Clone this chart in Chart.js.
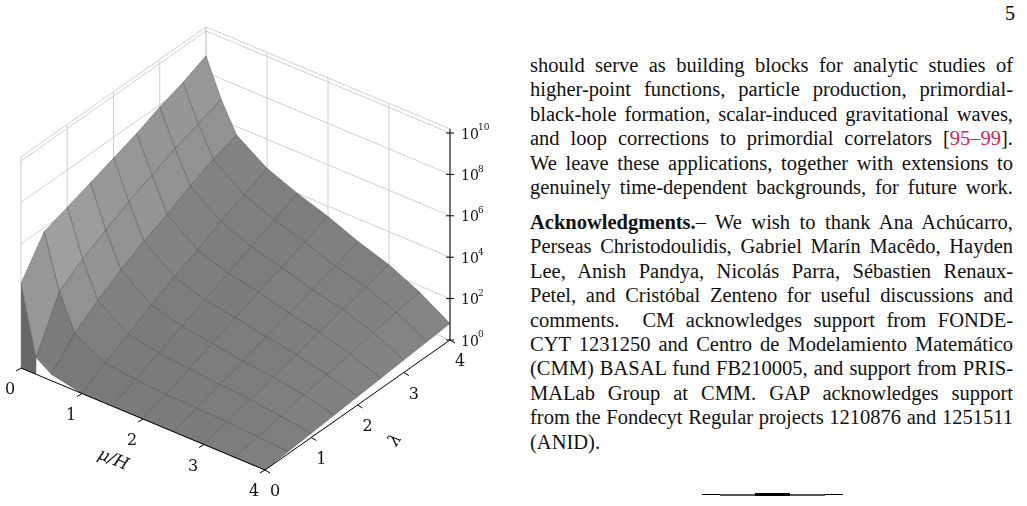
<!DOCTYPE html>
<html>
<head>
<meta charset="utf-8">
<script src="https://cdn.jsdelivr.net/npm/chart.js@4"></script>
<style>
  body { margin: 0; background: #fff; width: 1027px; height: 506px; overflow: hidden; position: relative; }
  #plot { position: absolute; left: 0; top: 0; width: 500px; height: 506px; }
  .txt { position: absolute; left: 530px; top: 53px; width: 483px; font-family: "Liberation Serif", serif; font-size: 20.5px; line-height: 24.4px; color: #111; }
  .txt div { text-align: justify; text-align-last: justify; white-space: nowrap; }
  .txt div.last { text-align-last: left; }
  .txt .gap { margin-top: 10.6px; }
  .ref { color: #d0245a; }
  #page { position: absolute; right: 12px; top: 2px; font-family: "Liberation Serif", serif; font-size: 20px; }
  .rule { position: absolute; top: 494px; height: 1px; background: #000; }
</style>
</head>
<body>
<div id="plot"><canvas id="surf"></canvas></div>
<div id="page">5</div>
<div class="txt">
  <div>should serve as building blocks for analytic studies of</div>
  <div>higher-point functions, particle production, primordial-</div>
  <div>black-hole formation, scalar-induced gravitational waves,</div>
  <div>and loop corrections to primordial correlators [<span class="ref">95–99</span>].</div>
  <div>We leave these applications, together with extensions to</div>
  <div>genuinely time-dependent backgrounds, for future work.</div>
  <div class="gap"><b>Acknowledgments.</b>– We wish to thank Ana Achúcarro,</div>
  <div>Perseas Christodoulidis, Gabriel Marín Macêdo, Hayden</div>
  <div>Lee, Anish Pandya, Nicolás Parra, Sébastien Renaux-</div>
  <div>Petel, and Cristóbal Zenteno for useful discussions and</div>
  <div>comments.&nbsp; CM acknowledges support from FONDE-</div>
  <div>CYT 1231250 and Centro de Modelamiento Matemático</div>
  <div>(CMM) BASAL fund FB210005, and support from PRIS-</div>
  <div>MALab Group at CMM. GAP acknowledges support</div>
  <div>from the Fondecyt Regular projects 1210876 and 1251511</div>
  <div class="last">(ANID).</div>
</div>
<div class="rule" style="left:702px;width:141px;"></div>
<div class="rule" style="left:720px;width:105px;height:2px;top:493.5px;background:#555;"></div>
<div class="rule" style="left:755px;width:35px;height:3px;top:493px;"></div>
<script>
// grid of the surface: mu/H (rows) x lambda (columns), values are log10 of the plotted quantity
const MU = [0, 0.25, 0.5, 1, 1.5, 2, 2.5, 3, 3.5, 4];
const LAM = [0, 0.5, 1, 1.5, 2, 2.5, 3, 3.5, 4];
const LOGZ = [
  [4.1, 5.8, 6.2, 6.6, 7.0, 7.4, 7.9, 8.3, 8.8],
  [0.8, 3.2, 4.0, 4.6, 5.2, 5.7, 6.2, 6.6, 7.0],
  [0.3, 1.5, 2.3, 3.0, 3.6, 4.1, 4.7, 5.2, 5.6],
  [0.0, 0.7, 1.3, 1.9, 2.5, 3.0, 3.6, 4.1, 4.6],
  [0.0, 0.5, 1.0, 1.5, 2.0, 2.5, 3.0, 3.5, 4.0],
  [0.0, 0.4, 0.85, 1.3, 1.75, 2.2, 2.6, 3.05, 3.5],
  [0.0, 0.35, 0.7, 1.05, 1.45, 1.8, 2.15, 2.5, 2.9],
  [0.0, 0.3, 0.6, 0.9, 1.2, 1.5, 1.8, 2.1, 2.4],
  [0.0, 0.2, 0.4, 0.65, 0.85, 1.05, 1.3, 1.5, 1.7],
  [0.0, 0.1, 0.2, 0.3, 0.4, 0.5, 0.6, 0.7, 0.8]
];
const MU_TICKS = [0, 1, 2, 3, 4];
const LAM_TICKS = [0, 1, 2, 3, 4];
const Z_TICKS = [0, 2, 4, 6, 8, 10];
const Z_TOP = 10.2;

// fixed oblique view (screen units of the hidden x/y scales)
function proj(mu, lam, lz) {
  return [21 + 61 * mu + 46.25 * lam, 368 + 25.5 * mu - 32.5 * lam - 20.7 * lz];
}

const surfacePlugin = {
  id: 'surface',
  beforeDatasetsDraw(chart) {
    const ctx = chart.ctx, sx = chart.scales.x, sy = chart.scales.y;
    const P = (mu, lam, lz) => { const p = proj(mu, lam, lz); return [sx.getPixelForValue(p[0]), sy.getPixelForValue(p[1])]; };
    const line = (a, b) => { ctx.beginPath(); ctx.moveTo(a[0], a[1]); ctx.lineTo(b[0], b[1]); ctx.stroke(); };
    ctx.save();

    // back panes
    ctx.strokeStyle = '#cfcfcf'; ctx.lineWidth = 1;
    MU_TICKS.forEach(m => line(P(m, 4, 0), P(m, 4, Z_TOP)));
    LAM_TICKS.forEach(l => line(P(0, l, 0), P(0, l, Z_TOP)));
    Z_TICKS.concat([Z_TOP]).forEach(z => { line(P(0, 0, z), P(0, 4, z)); line(P(0, 4, z), P(4, 4, z)); });

    // surface cells, far to near
    const cells = [];
    for (let i = 0; i < MU.length - 1; i++)
      for (let j = 0; j < LAM.length - 1; j++) cells.push([i, j]);
    cells.sort((a, b) => (MU[a[0]] - LAM[a[1]]) - (MU[b[0]] - LAM[b[1]]));
    cells.forEach(([i, j]) => {
      const q = [[i, j], [i + 1, j], [i + 1, j + 1], [i, j + 1]].map(([a, b]) => P(MU[a], LAM[b], LOGZ[a][b]));
      const dm = MU[i + 1] - MU[i], dl = LAM[j + 1] - LAM[j];
      const dzdm = (LOGZ[i + 1][j] - LOGZ[i][j] + LOGZ[i + 1][j + 1] - LOGZ[i][j + 1]) / 2 / dm;
      const dzdl = (LOGZ[i][j + 1] - LOGZ[i][j] + LOGZ[i + 1][j + 1] - LOGZ[i + 1][j]) / 2 / dl;
      const g = Math.round(Math.max(105, Math.min(178, 128 + 4 * -dzdm - 6 * dzdl)));
      ctx.fillStyle = `rgb(${g},${g},${g})`;
      ctx.strokeStyle = 'rgba(40,40,40,0.5)'; ctx.lineWidth = 0.6;
      ctx.beginPath(); ctx.moveTo(q[0][0], q[0][1]);
      q.slice(1).forEach(p => ctx.lineTo(p[0], p[1]));
      ctx.closePath(); ctx.fill(); ctx.stroke();
    });
    // front wall at the mu=0 / lam=0 corner
    ctx.fillStyle = '#686868';
    ctx.beginPath();
    const w0 = P(0, 0, 0), w1 = P(0, 0, LOGZ[0][0]), w2 = P(MU[1], 0, LOGZ[1][0]), w3 = P(MU[1], 0, 0);
    ctx.moveTo(w0[0], w0[1]); ctx.lineTo(w1[0], w1[1]); ctx.lineTo(w2[0], w2[1]); ctx.lineTo(w3[0], w3[1]);
    ctx.closePath(); ctx.fill();

    // axes
    ctx.strokeStyle = '#000'; ctx.lineWidth = 1;
    line(P(0, 0, 0), P(4, 0, 0));
    line(P(4, 0, 0), P(4, 4, 0));
    line(P(4, 4, 0), P(4, 4, Z_TOP));
    ctx.fillStyle = '#111';
    ctx.font = '16px "DejaVu Serif", serif';
    ctx.textAlign = 'center'; ctx.textBaseline = 'middle';
    MU_TICKS.forEach(m => {
      const a = P(m, 0, 0); line(a, [a[0] - 5, a[1] + 3]);
      ctx.fillText(String(m), a[0] - 11, a[1] + 22);
    });
    LAM_TICKS.forEach(l => {
      const a = P(4, l, 0); line(a, [a[0] + 5, a[1] + 3]);
      ctx.fillText(String(l), a[0] + 10, a[1] + 22);
    });
    ctx.textAlign = 'left';
    Z_TICKS.forEach(z => {
      const a = P(4, 4, z); line([a[0] - 4, a[1]], [a[0] + 4, a[1]]);
      ctx.font = '14px "DejaVu Serif", serif';
      ctx.fillText('10', a[0] + 11, a[1] + 2);
      ctx.font = '9px "DejaVu Serif", serif';
      ctx.fillText(String(z), a[0] + 28, a[1] - 5);
    });
    ctx.font = 'italic 17px "DejaVu Serif", serif';
    ctx.textAlign = 'center';
    let t = P(2, 0, 0);
    ctx.save(); ctx.translate(t[0] - 30, t[1] + 41); ctx.rotate(0.40); ctx.fillText('μ/H', 0, 0); ctx.restore();
    t = P(4, 2, 0);
    ctx.save(); ctx.translate(t[0] + 38, t[1] + 35); ctx.rotate(-1.0); ctx.fillText('λ', 0, 0); ctx.restore();
    ctx.restore();
  }
};

new Chart(document.getElementById('surf').getContext('2d'), {
  type: 'scatter',
  data: { datasets: [{ data: [] }] },
  options: {
    responsive: true,
    maintainAspectRatio: false,
    animation: false,
    layout: { padding: 0 },
    plugins: { legend: { display: false }, tooltip: { enabled: false } },
    scales: {
      x: { type: 'linear', min: 0, max: 500, display: false },
      y: { type: 'linear', min: 0, max: 506, reverse: true, display: false }
    }
  },
  plugins: [surfacePlugin]
});
</script>
</body>
</html>
